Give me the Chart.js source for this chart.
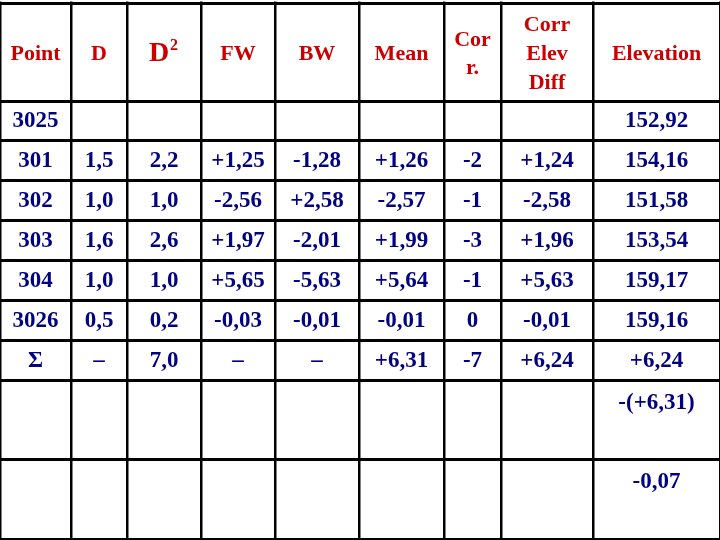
<!DOCTYPE html>
<html><head><meta charset="utf-8">
<script src="https://cdn.jsdelivr.net/npm/chart.js@4/dist/chart.umd.min.js"></script>
<style>html,body{margin:0;padding:0;background:#fff;}</style>
</head><body>
<canvas id="c" width="720" height="540"></canvas>
<script>
const colEdges = [0,71,127,201,275,359,444,501,593,720];
const rowEdges = [3,101,140,180,220,260,300,340,380,459,539];
const headers = [["Point"],["D"],["D²"],["FW"],["BW"],["Mean"],["Cor","r."],["Corr","Elev","Diff"],["Elevation"]];
const points = ["3025","301","302","303","304","3026","Σ","",""];
const colD = ["","1,5","1,0","1,6","1,0","0,5","–","",""];
const colD2 = ["","2,2","1,0","2,6","1,0","0,2","7,0","",""];
const colFW = ["","+1,25","-2,56","+1,97","+5,65","-0,03","–","",""];
const colBW = ["","-1,28","+2,58","-2,01","-5,63","-0,01","–","",""];
const colMean = ["","+1,26","-2,57","+1,99","+5,64","-0,01","+6,31","",""];
const colCorr = ["","-2","-1","-3","-1","0","-7","",""];
const colCorrElev = ["","+1,24","-2,58","+1,96","+5,63","-0,01","+6,24","",""];
const colElev = ["152,92","154,16","151,58","153,54","159,17","159,16","+6,24","-(+6,31)","-0,07"];
const bodyCols = [points,colD,colD2,colFW,colBW,colMean,colCorr,colCorrElev,colElev];

const tablePlugin = {
  id:'tableText',
  afterDraw(chart){
    const ctx=chart.ctx, xs=chart.scales.x, ys=chart.scales.y;
    const cx=i=>(xs.getPixelForValue(colEdges[i])+xs.getPixelForValue(colEdges[i+1]))/2;
    ctx.save();
    ctx.fillStyle='#fff';
    ctx.fillRect(0,0,chart.width,ys.getPixelForValue(rowEdges[0])-1.5);
    ctx.textAlign='center'; ctx.textBaseline='middle';
    ctx.fillStyle='#cc0000';
    const hy=(ys.getPixelForValue(rowEdges[0])+ys.getPixelForValue(rowEdges[1]))/2+2;
    headers.forEach((lines,i)=>{
      if(i===2){
        ctx.font='bold 28px "Liberation Serif"';
        ctx.fillText('D',cx(i)-5,hy);
        ctx.font='bold 16px "Liberation Serif"';
        ctx.fillText('2',cx(i)+10,hy-8);
        return;
      }
      ctx.font='bold 22px "Liberation Serif"';
      const lh=lines.length===3?29:28;
      lines.forEach((t,k)=>{
        ctx.fillText(t,cx(i),hy+(k-(lines.length-1)/2)*lh);
      });
    });
    ctx.fillStyle='#000080';
    ctx.font='bold 23px "Liberation Serif"';
    bodyCols.forEach((col,i)=>{
      col.forEach((t,r)=>{
        if(!t) return;
        const y0=ys.getPixelForValue(rowEdges[r+1]), y1=ys.getPixelForValue(rowEdges[r+2]);
        let y=(y0+y1)/2+1;
        if(r>=7) y=y0+23;
        ctx.fillText(t,cx(i),y);
      });
    });
    ctx.restore();
  }
};

new Chart(document.getElementById('c'),{
  type:'scatter',
  data:{datasets:[{data:[]}]},
  options:{
    responsive:false, animation:false, devicePixelRatio:1,
    layout:{padding:0},
    plugins:{legend:{display:false},tooltip:{enabled:false}},
    scales:{
      x:{type:'linear',min:0,max:720,
        afterBuildTicks:a=>{a.ticks=colEdges.map(v=>({value:v}));},
        ticks:{display:false},
        grid:{color:'#000',lineWidth:2.5,drawTicks:false},
        border:{display:false}},
      y:{type:'linear',min:0,max:540,reverse:true,
        afterBuildTicks:a=>{a.ticks=rowEdges.map(v=>({value:v}));},
        ticks:{display:false},
        grid:{color:'#000',lineWidth:3,drawTicks:false},
        border:{display:false}}
    }
  },
  plugins:[tablePlugin]
});
</script>
</body></html>
